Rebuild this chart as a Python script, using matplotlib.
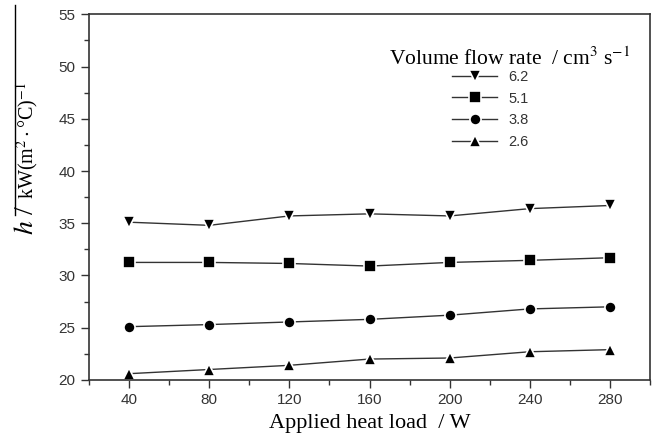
import numpy as np
import matplotlib
matplotlib.use('Agg')
import matplotlib.pyplot as plt
from matplotlib.ticker import MultipleLocator
from matplotlib.lines import Line2D

plt.rcParams['mathtext.fontset'] = 'stix'

heat_load = [40, 80, 120, 160, 200, 240, 280]
flow_rates = ['6.2', '5.1', '3.8', '2.6']
h_62 = [35.1, 34.8, 35.7, 35.9, 35.7, 36.4, 36.7]
h_51 = [31.25, 31.25, 31.15, 30.9, 31.25, 31.45, 31.7]
h_38 = [25.1, 25.3, 25.55, 25.8, 26.2, 26.8, 27.0]
h_26 = [20.6, 21.0, 21.4, 22.0, 22.1, 22.7, 22.9]

series = [h_62, h_51, h_38, h_26]
markers = ['v', 's', 'o', '^']


def main():
    fig = plt.figure(figsize=(6.54, 4.47), dpi=100)
    ax = fig.add_axes([0.136, 0.150, 0.858, 0.818])

    for vals, lab, mk in zip(series, flow_rates, markers):
        ax.plot(heat_load, vals, color='#333333', lw=1.0, marker=mk,
                ms=8, mfc='black', mec='white', mew=1.2, label=lab)

    ax.set_xlim(20, 300)
    ax.set_ylim(20, 55)
    ax.xaxis.set_major_locator(MultipleLocator(40))
    ax.xaxis.set_minor_locator(MultipleLocator(20))
    ax.yaxis.set_major_locator(MultipleLocator(5))
    ax.yaxis.set_minor_locator(MultipleLocator(2.5))
    ax.tick_params(which='major', direction='out', length=6, width=1,
                   labelsize=11, labelcolor='#333333', color='#333333')
    ax.tick_params(which='minor', direction='out', length=3.5, width=1,
                   color='#333333')
    ax.tick_params(axis='x', which='both', top=False)
    ax.tick_params(axis='y', which='both', right=False)
    for lbl in ax.get_xticklabels() + ax.get_yticklabels():
        lbl.set_family('Liberation Sans')
    for sp in ax.spines.values():
        sp.set_color('#333333')
        sp.set_linewidth(1.2)

    ax.set_xlabel('Applied heat load  / W', family='Liberation Serif',
                  fontsize=16, labelpad=5)

    # y label: big italic h, then unit with a bar over it
    fig.text(0.040, 0.508, r'$h$ /', rotation=90, fontsize=20,
             family='Liberation Serif', ha='center', va='center')
    fig.text(0.042, 0.685, r'kW(m$^2\cdot$°C)$^{\mathrm{-1}}$', rotation=90,
             fontsize=14.5, family='Liberation Serif', ha='center', va='center')
    fig.add_artist(Line2D([0.023, 0.023], [1 - 215 / 447, 1 - 5 / 447],
                          transform=fig.transFigure, color='black', lw=1.0))

    # legend title drawn on its own, entries below it
    fig.text(510 / 654, 1 - 59 / 447,
             r'Volume flow rate  / cm$^3$ s$^{\mathrm{-1}}$',
             family='Liberation Serif', fontsize=15.5, ha='center', va='center')
    leg = ax.legend(loc='upper left', bbox_to_anchor=(452 / 654, 1 - 70 / 447),
                    bbox_transform=fig.transFigure, borderpad=0,
                    borderaxespad=0, frameon=False, handlelength=3.1,
                    handletextpad=0.75, labelspacing=0.52, fontsize=10.5,
                    markerscale=1.0)
    for t in leg.get_texts():
        t.set_color('#333333')
        t.set_family('Liberation Sans')

    fig.savefig('out.png', dpi=100)


if __name__ == "__main__":
    main()
